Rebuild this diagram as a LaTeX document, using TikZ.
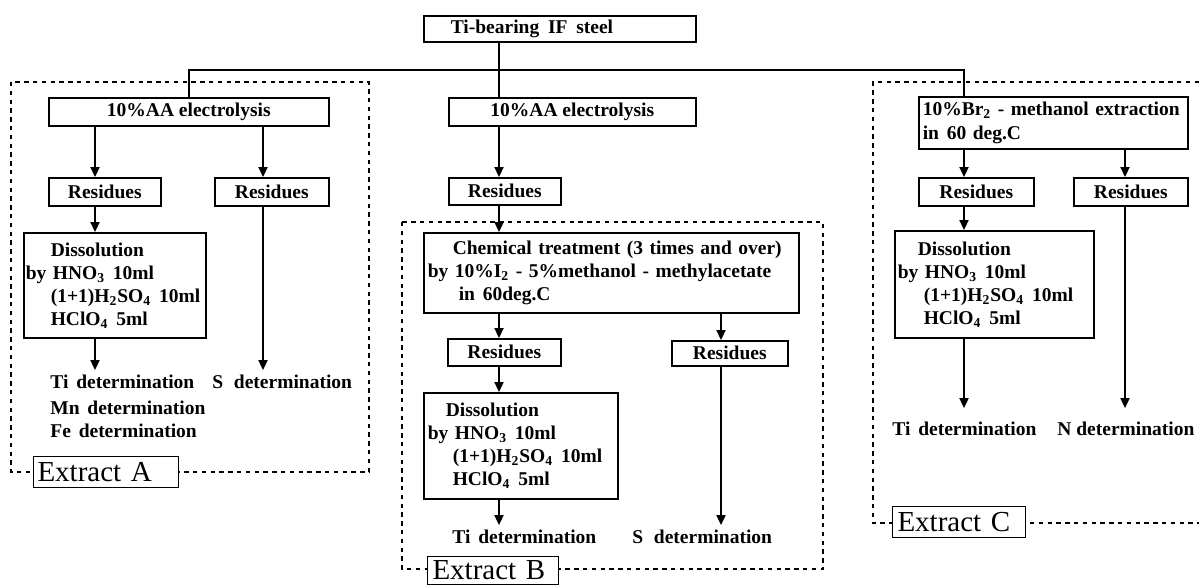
\documentclass[tikz,border=0pt]{standalone}
\usepackage{fontspec}
\newfontfamily\scan{Liberation Serif Bold}
\newfontfamily\plainserif{Liberation Serif}
\usetikzlibrary{arrows.meta}
\tikzset{
  ln/.style={line width=0.65pt},
  arr/.style={ln, -{Triangle[length=5pt,width=4.6pt]}},
  dsh/.style={line width=0.55pt, dash pattern=on 2.2pt off 2.2pt},
  bx/.style={draw, line width=0.8pt, anchor=north west, inner xsep=0pt, inner ysep=0pt,
    font=\scan\fontsize{9.75}{11.5}\selectfont},
  res/.style={bx, minimum height=14pt, align=center},
  lbl/.style={anchor=west, inner sep=0pt, text height=1.5ex, text depth=.25ex,
    font=\scan\fontsize{9.75}{12}\selectfont},
  ext/.style={draw, fill=white, line width=0.5pt, anchor=north west, inner ysep=0pt,
    align=left, font=\plainserif\fontsize{14.5}{14.5}\selectfont}
}
\begin{document}
\begin{tikzpicture}[x=0.5pt,y=-0.5pt]
\useasboundingbox (0,0) rectangle (1199,585);
% dashed extract frames
\draw[dsh] (11,82) rectangle (369,472);
\draw[dsh] (402,222) rectangle (823,569);
\draw[dsh] (1199,82) -- (873,82) -- (873,523) -- (1199,523);
% column coordinates
\coordinate (colA1) at (95,0);
\coordinate (colA2) at (263,0);
\coordinate (colM) at (499,0);
\coordinate (colB2) at (721,0);
\coordinate (colC1) at (964,0);
\coordinate (colC2) at (1125,0);
\coordinate (trunkL) at (189,70);
\coordinate (trunkR) at (964,70);
% boxes
\node[bx, minimum height=13pt, inner xsep=13.5pt, text width=109pt, align=left] (top) at (423,15) {Ti-bearing\hspace{0.45em}IF\hspace{0.45em}steel};
\node[bx, minimum width=140pt, minimum height=14pt, align=center] (aaA) at (48,97) {10\%AA electrolysis};
\node[bx, minimum width=123.5pt, minimum height=14pt, align=center] (aaM) at (448,97) {10\%AA electrolysis};
\node[bx, minimum height=26pt, inner xsep=2pt, text width=130.5pt, align=left, font=\scan\fontsize{9.75}{12}\selectfont] (br) at (918,96)
  {10\%Br\textsubscript{2} - methanol extraction\\in\hspace{0.4em}60 deg.C};
\node[res, minimum width=56pt] (resA1) at (48,177) {Residues};
\node[res, minimum width=57pt] (resA2) at (214,177) {Residues};
\node[res, minimum width=56pt, minimum height=13.5pt] (resM) at (448,177) {Residues};
\node[res, minimum width=57.5pt] (resC1) at (918,177) {Residues};
\node[res, minimum width=57pt] (resC2) at (1073,177) {Residues};
\node[res, minimum width=56.5pt, minimum height=13.5pt] (resB1) at (447,338) {Residues};
\node[res, minimum width=58pt, minimum height=12.5pt] (resB2) at (671,340) {Residues};
\node[bx, minimum height=52.5pt, inner xsep=1pt, text width=89pt, align=left] (dissA) at (23,232)
  {\hspace*{12.5pt}Dissolution\\by HNO\textsubscript{3}\hspace{0.4em}10ml\\\hspace*{12.5pt}(1+1)H\textsubscript{2}SO\textsubscript{4}\hspace{0.4em}10ml\\\hspace*{12.5pt}HClO\textsubscript{4}\hspace{0.4em}5ml};
\node[bx, minimum height=53pt, inner xsep=2pt, text width=93pt, align=left] (dissB) at (423,392)
  {\hspace*{9pt}Dissolution\\by HNO\textsubscript{3}\hspace{0.4em}10ml\\\hspace*{12.5pt}(1+1)H\textsubscript{2}SO\textsubscript{4}\hspace{0.4em}10ml\\\hspace*{12.5pt}HClO\textsubscript{4}\hspace{0.4em}5ml};
\node[bx, minimum height=53.5pt, inner xsep=1.5pt, text width=96.5pt, align=left] (dissC) at (894,230)
  {\hspace*{10pt}Dissolution\\by HNO\textsubscript{3}\hspace{0.4em}10ml\\\hspace*{13pt}(1+1)H\textsubscript{2}SO\textsubscript{4}\hspace{0.4em}10ml\\\hspace*{13pt}HClO\textsubscript{4}\hspace{0.4em}5ml};
\node[bx, minimum height=40pt, inner xsep=2pt, text width=183.5pt, align=left] (chem) at (423,232)
  {\hspace*{12.5pt}\makebox[170pt][s]{Chemical treatment (3 times and over)}\\by 10\%I\textsubscript{2} - 5\%methanol - methylacetate\\\hspace*{15.5pt}in\hspace{0.4em}60deg.C};
% determination labels
\node[lbl] (tiA) at (50,383) {Ti\hspace{0.4em}determination};
\node[lbl] (mnA) at (50,409) {Mn\hspace{0.4em}determination};
\node[lbl] (feA) at (50,432) {Fe\hspace{0.4em}determination};
\node[lbl] (sA) at (212,383) {S\hspace{0.55em}determination};
\node[lbl] (tiB) at (452,538) {Ti\hspace{0.4em}determination};
\node[lbl] (sB) at (632,538) {S\hspace{0.55em}determination};
\node[lbl] (tiC) at (892,430) {Ti\hspace{0.4em}determination};
\node[lbl] (nC) at (1057,430) {N determination};
% extract labels
\node[ext, minimum height=15.5pt, inner xsep=2pt, text width=68.5pt] (extA) at (33,456) {Extract A};
\node[ext, minimum height=14pt, inner xsep=2.5pt, text width=60.5pt] (extB) at (427,556) {Extract B};
\node[ext, minimum height=15.5pt, inner xsep=2.5pt, text width=61.5pt] (extC) at (892,506) {Extract C};
% trunk
\draw[ln] (colM |- top.south) -- (colM |- trunkL) -| (trunkL |- aaA.north);
\draw[ln] (colM |- trunkL) -| (trunkR |- br.north);
\draw[ln] (colM |- trunkL) -- (colM |- aaM.north);
% extract A
\draw[arr] (colA1 |- aaA.south) -- (colA1 |- resA1.north);
\draw[arr] (colA2 |- aaA.south) -- (colA2 |- resA2.north);
\draw[arr] (colA1 |- resA1.south) -- (colA1 |- dissA.north);
\draw[arr, shorten >=2.5pt] (colA1 |- dissA.south) -- (colA1 |- tiA.north);
\draw[arr, shorten >=2.5pt] (colA2 |- resA2.south) -- (colA2 |- sA.north);
% extract B
\draw[arr] (colM |- aaM.south) -- (colM |- resM.north);
\draw[arr] (colM |- resM.south) -- (colM |- chem.north);
\draw[arr] (colM |- chem.south) -- (colM |- resB1.north);
\draw[arr] (colB2 |- chem.south) -- (colB2 |- resB2.north);
\draw[arr] (colM |- resB1.south) -- (colM |- dissB.north);
\draw[arr, shorten >=2.5pt] (colM |- dissB.south) -- (colM |- tiB.north);
\draw[arr, shorten >=2.5pt] (colB2 |- resB2.south) -- (colB2 |- sB.north);
% extract C
\draw[arr] (colC1 |- br.south) -- (colC1 |- resC1.north);
\draw[arr] (colC2 |- br.south) -- (colC2 |- resC2.north);
\draw[arr] (colC1 |- resC1.south) -- (colC1 |- dissC.north);
\draw[arr, shorten >=7pt] (colC1 |- dissC.south) -- (colC1 |- tiC.north);
\draw[arr, shorten >=7pt] (colC2 |- resC2.south) -- (colC2 |- nC.north);
\end{tikzpicture}
\end{document}
